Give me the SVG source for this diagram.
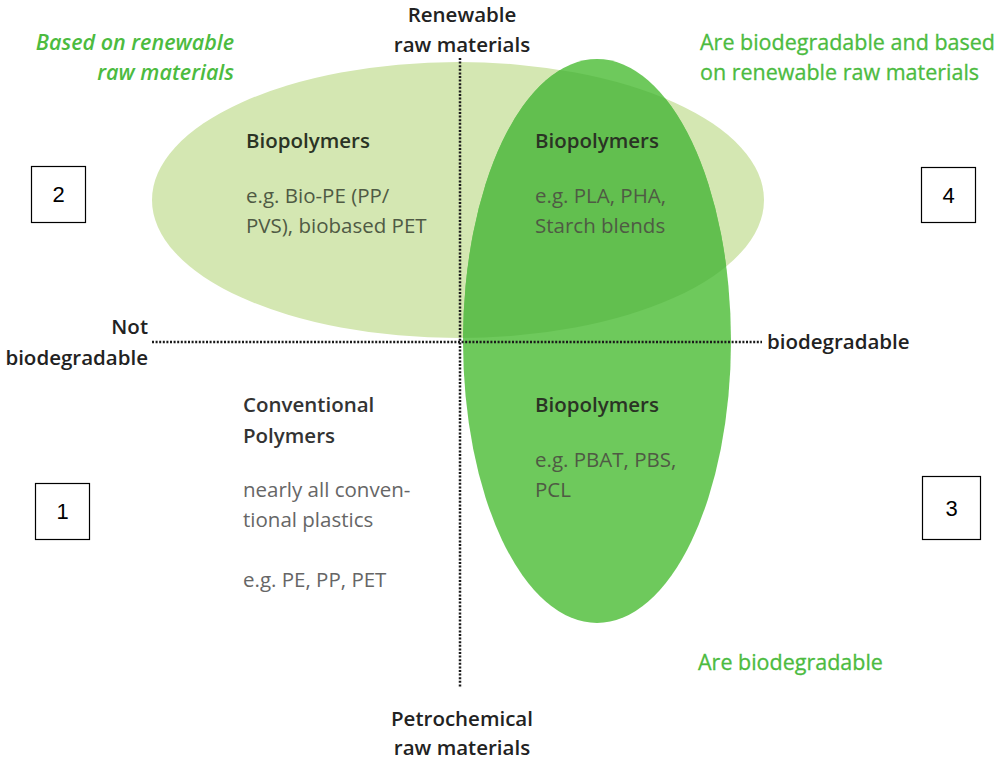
<svg xmlns="http://www.w3.org/2000/svg" width="1001" height="760" viewBox="0 0 1001 760">
<style>
.t{font-family:"Open Sans","Noto Sans",sans-serif;font-size:20.5px;}
.axis{fill:#222;font-weight:600;}
.green{fill:#4cbb3f;font-size:21.5px;stroke:#4cbb3f;stroke-width:0.3;}
.it{font-style:italic;font-weight:600;stroke:none;}
.hd{fill:#2a3324;font-weight:600;}
.bd{fill:#4f5a44;}
.cv{fill:#333;font-weight:600;}
.gr{fill:#666;}
.box{fill:#fff;stroke:#000;stroke-width:1.2;}
.num{font-family:"Liberation Sans",Arial,sans-serif;font-size:22px;fill:#000;text-anchor:middle;}
.dot{fill:none;stroke:#1a1a1a;stroke-width:2.5;stroke-dasharray:2 1.6;}
</style>
<defs>
<clipPath id="lightClip"><ellipse cx="458" cy="200" rx="306" ry="138"/></clipPath>
</defs>
<rect width="1001" height="760" fill="#fff"/>
<g id="ellipse-renewable">
<ellipse cx="458" cy="200" rx="306" ry="138" fill="#d4e7b2"/>
</g>
<g id="ellipse-biodegradable">
<ellipse cx="597" cy="341" rx="134" ry="282" fill="#6ec95c"/>
<ellipse cx="597" cy="341" rx="134" ry="282" fill="#62bf4f" clip-path="url(#lightClip)"/>
</g>
<g id="axes">
<line class="dot" x1="460" y1="58" x2="460" y2="688"/>
<line class="dot" x1="152" y1="342" x2="762" y2="342"/>
</g>
<g id="axis-labels" class="t">
<text class="axis" x="462" y="22" text-anchor="middle">Renewable</text>
<text class="axis" x="462" y="52" text-anchor="middle">raw materials</text>
<text class="axis" x="462" y="726" text-anchor="middle">Petrochemical</text>
<text class="axis" x="462" y="755" text-anchor="middle">raw materials</text>
<text class="axis" x="148" y="334" text-anchor="end">Not</text>
<text class="axis" x="148" y="365" text-anchor="end">biodegradable</text>
<text class="axis" x="767" y="349">biodegradable</text>
</g>
<g id="category-labels" class="t">
<text class="green it" x="234" y="50" text-anchor="end">Based on renewable</text>
<text class="green it" x="234" y="80" text-anchor="end">raw materials</text>
<text class="green" x="700" y="50">Are biodegradable and based</text>
<text class="green" x="700" y="80">on renewable raw materials</text>
<text class="green" x="698" y="670">Are biodegradable</text>
</g>
<g id="node-q2" class="t">
<text class="hd" x="246" y="148">Biopolymers</text>
<text class="bd" x="246" y="203">e.g. Bio-PE (PP/</text>
<text class="bd" x="246" y="233">PVS), biobased PET</text>
</g>
<g id="node-q4" class="t">
<text class="hd" x="535" y="148">Biopolymers</text>
<text class="bd" x="535" y="203">e.g. PLA, PHA,</text>
<text class="bd" x="535" y="233">Starch blends</text>
</g>
<g id="node-q3" class="t">
<text class="hd" x="535" y="412">Biopolymers</text>
<text class="bd" x="535" y="467">e.g. PBAT, PBS,</text>
<text class="bd" x="535" y="497">PCL</text>
</g>
<g id="node-q1" class="t">
<text class="cv" x="243" y="412">Conventional</text>
<text class="cv" x="243" y="443">Polymers</text>
<text class="gr" x="243" y="497">nearly all conven-</text>
<text class="gr" x="243" y="527">tional plastics</text>
<text class="gr" x="243" y="587">e.g. PE, PP, PET</text>
</g>
<g id="box-2"><rect class="box" x="31.5" y="166.5" width="54" height="56"/><text class="num" x="58.5" y="202">2</text></g>
<g id="box-4"><rect class="box" x="921.5" y="167.5" width="54" height="55"/><text class="num" x="948.5" y="203">4</text></g>
<g id="box-1"><rect class="box" x="35.5" y="483.5" width="54" height="56"/><text class="num" x="62.5" y="519">1</text></g>
<g id="box-3"><rect class="box" x="922.5" y="476.5" width="58" height="63"/><text class="num" x="951.5" y="516">3</text></g>
</svg>
